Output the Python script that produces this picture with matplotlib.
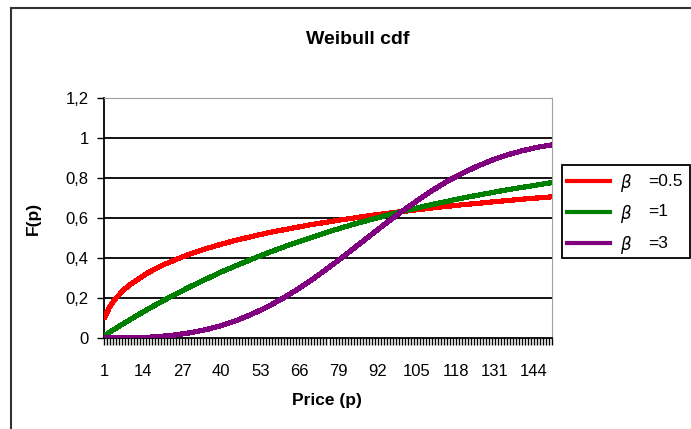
import matplotlib
matplotlib.use("Agg")
import matplotlib.pyplot as plt
from matplotlib.lines import Line2D
from matplotlib.patches import Rectangle

plt.rcParams['font.family'] = ['Liberation Sans', 'DejaVu Sans']

# Precio (categorias 1..150) y valores
precios = [1, 3, 5, 8, 10, 15, 20, 25, 30, 35, 40, 45, 50, 55, 60, 65, 70, 75,
           80, 85, 90, 95, 100, 105, 110, 115, 120, 125, 130, 135, 140, 145, 150]
f_beta05 = [0.095, 0.159, 0.200, 0.246, 0.271, 0.321, 0.361, 0.393, 0.422, 0.447,
            0.469, 0.489, 0.507, 0.524, 0.539, 0.553, 0.567, 0.579, 0.591, 0.602,
            0.613, 0.623, 0.632, 0.641, 0.650, 0.658, 0.666, 0.673, 0.680, 0.687,
            0.694, 0.700, 0.706]
f_beta1 = [0.010, 0.030, 0.049, 0.077, 0.095, 0.139, 0.181, 0.221, 0.259, 0.295,
           0.330, 0.362, 0.393, 0.423, 0.451, 0.478, 0.503, 0.528, 0.551, 0.573,
           0.593, 0.613, 0.632, 0.650, 0.667, 0.683, 0.699, 0.713, 0.727, 0.741,
           0.753, 0.765, 0.777]
f_beta3 = [0.000, 0.000, 0.000, 0.001, 0.001, 0.003, 0.008, 0.016, 0.027, 0.042,
           0.062, 0.087, 0.118, 0.153, 0.194, 0.240, 0.290, 0.344, 0.400, 0.459,
           0.518, 0.576, 0.632, 0.685, 0.736, 0.782, 0.822, 0.858, 0.889, 0.915,
           0.936, 0.953, 0.966]
etiquetas_x = [1, 14, 27, 40, 53, 66, 79, 92, 105, 118, 131, 144]
etiquetas_y = ['0', '0,2', '0,4', '0,6', '0,8', '1', '1,2']
valores_y = [0, 0.2, 0.4, 0.6, 0.8, 1.0, 1.2]
series = [(f_beta05, '#ff0000', '=0.5'),
          (f_beta1, '#008000', '=1'),
          (f_beta3, '#800080', '=3')]

W, H = 691, 429


def fx(px):
    return px / W


def fy(py):
    return 1 - py / H


fig = plt.figure(figsize=(W / 100, H / 100), dpi=100)

# marco exterior del grafico
fig.add_artist(Line2D([fx(10.5), fx(10.5)], [0, fy(7.5)],
                      transform=fig.transFigure, color='#333333', lw=1.5))
fig.add_artist(Line2D([fx(10.5), 1], [fy(7.5), fy(7.5)],
                      transform=fig.transFigure, color='#333333', lw=1.5))

ax = fig.add_axes([fx(104), fy(338), 448 / W, 240 / H])

for valores, color, _ in series:
    ax.plot(precios, valores, color=color, lw=3.0, solid_capstyle='butt',
            antialiased=False, zorder=3)

ax.set_xlim(1, 150)
ax.set_ylim(0, 1.2)
ax.set_yticks(valores_y)
ax.set_yticklabels(etiquetas_y)
ax.set_xticks(etiquetas_x)
ax.set_xticklabels([str(v) for v in etiquetas_x])
ax.set_xticks(list(range(1, 151)), minor=True)
ax.tick_params(axis='x', which='both', direction='out', length=5, width=1,
               pad=14, labelsize=12)
ax.tick_params(axis='y', direction='out', length=5, width=1, pad=6,
               labelsize=12)

for v in valores_y[1:-1]:
    ax.axhline(v, color='black', lw=1.3, zorder=1)

ax.spines['top'].set_color('#a0a0a0')
ax.spines['right'].set_color('#a0a0a0')
ax.spines['left'].set_linewidth(1.3)
ax.spines['bottom'].set_linewidth(1.3)

fig.text(fx(327), fy(400), 'Price (p)', ha='center', va='center',
         fontsize=12.5, fontweight='bold')
fig.text(fx(33), fy(218), 'F(p)', ha='center', va='center', rotation=90,
         fontsize=12.5, fontweight='bold')
fig.text(fx(358), fy(40), 'Weibull cdf', ha='center', va='center',
         fontsize=14, fontweight='bold')

# leyenda
fig.add_artist(Rectangle((fx(562), fy(258)), fx(690) - fx(562), fy(165) - fy(258),
                         transform=fig.transFigure, fill=False,
                         edgecolor='black', lw=1.3))
filas_y = [181, 212, 243]
for (_, color, texto), py in zip(series, filas_y):
    fig.add_artist(Line2D([fx(567), fx(610)], [fy(py), fy(py)],
                          transform=fig.transFigure, color=color, lw=3.0))
    fig.text(fx(626), fy(py + 2), r'$\beta$', ha='center', va='center',
             fontsize=12)
    fig.text(fx(648), fy(py), texto, ha='left', va='center', fontsize=12.5)

fig.savefig('out.png', dpi=100)
